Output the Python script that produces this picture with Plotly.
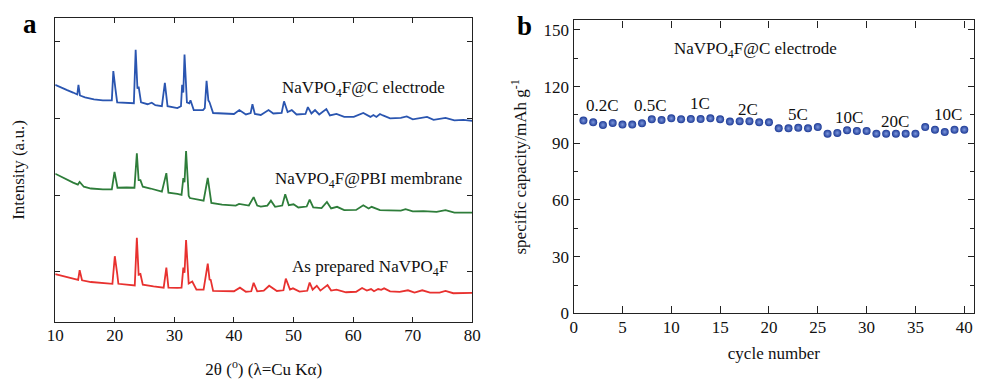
import plotly.graph_objects as go

# ---------------- Panel a: XRD patterns ----------------
blue_2theta = [10.0, 11.0, 12.0, 13.0, 13.7, 13.9, 14.15, 15.0, 16.5, 18.0, 19.5, 19.75, 19.95, 20.1, 20.4,
               22.0, 23.2, 23.5, 23.8, 24.0, 24.4, 25.5, 26.2, 26.8, 27.9, 28.4, 28.85, 30.5, 31.1, 31.3,
               31.5, 31.7, 32.1, 32.5, 32.7, 33.25, 34.8, 35.1, 35.4, 35.7, 35.9, 36.5, 40.0, 40.9, 42.0,
               42.8, 43.1, 43.5, 44.5, 45.8, 46.6, 48.0, 48.4, 49.0, 49.7, 50.5, 52.0, 52.4, 53.0, 53.6,
               54.3, 55.5, 56.1, 57.2, 58.5, 60.1, 61.7, 62.9, 63.4, 63.9, 64.5, 65.0, 66.2, 68.0, 69.0,
               70.0, 71.3, 72.4, 73.5, 75.5, 77.0, 78.5, 80.0]
blue_intensity = [244, 241, 238.5, 236, 234, 244, 233, 231, 229, 228, 228, 258, 242, 240, 226,
                  225.5, 225, 280, 240, 242, 226, 224, 225.5, 223, 222, 246, 222, 220, 222, 244,
                  236, 275, 226, 225, 228, 218, 218, 220, 248, 228, 226, 215, 214, 218, 213.5,
                  215, 224, 214, 213, 218, 214.5, 215, 227, 216, 218, 213.5, 214, 221, 214.5, 218,
                  213.5, 219, 212.5, 214, 211, 211, 215, 211, 213, 211, 214, 212.5, 209.5, 210, 211.5,
                  208.5, 210, 211, 208, 210, 207.5, 208, 207]

green_2theta = [10.0, 11.0, 12.0, 13.0, 13.8, 14.1, 14.8, 16.0, 18.0, 19.5, 19.95, 20.15, 20.45, 22.0, 23.3,
                23.7, 24.0, 24.3, 24.7, 26.0, 27.9, 28.65, 29.0, 30.5, 31.2, 31.5, 31.7, 31.96, 32.4, 32.6,
                34.9, 35.6, 36.2, 38.0, 40.3, 40.85, 42.5, 43.3, 43.9, 44.5, 45.6, 46.2, 46.9, 48.1, 48.6,
                49.2, 50.0, 50.8, 52.2, 52.7, 53.3, 54.7, 55.6, 56.3, 57.3, 58.5, 60.5, 61.7, 62.6, 63.1,
                63.6, 64.5, 66.0, 68.0, 68.8, 70.0, 71.8, 72.8, 74.0, 75.5, 77.0, 80.0]
green_intensity = [152.7, 149.5, 146.5, 143.5, 141.5, 144.3, 139.3, 137.5, 136.5, 136.5, 154.5, 147, 138.3, 138.5, 138.3,
                   173.7, 146, 146, 139.3, 137.5, 134.3, 153.3, 133.3, 132, 131, 148.3, 144, 176, 130, 127.7,
                   125, 148.3, 122.7, 121, 120, 121.7, 120, 128.7, 120, 119, 120, 125, 118.7, 120, 131.7,
                   120.3, 121.3, 118, 119, 126, 118, 117.3, 123.7, 117, 118.7, 115.3, 115.5, 120.3, 117, 118.7,
                   117.3, 115.3, 115, 114.7, 116.3, 114, 114.3, 113.7, 113.5, 115.3, 112.7, 112.7]

red_2theta = [10.0, 11.0, 12.0, 13.0, 13.85, 14.1, 14.5, 16.0, 18.0, 19.6, 20.0, 20.25, 20.4, 20.6, 22.0,
              23.35, 23.7, 24.0, 24.3, 24.7, 26.5, 28.2, 28.65, 29.0, 30.5, 31.2, 31.5, 31.7, 31.96, 32.4,
              33.0, 33.7, 34.9, 35.6, 35.9, 36.1, 36.5, 40.0, 41.0, 42.0, 42.9, 43.3, 43.9, 45.0, 45.9,
              46.3, 47.2, 48.3, 48.7, 49.4, 49.9, 51.0, 52.3, 52.7, 53.2, 53.9, 54.5, 55.7, 56.3, 57.2,
              58.8, 60.5, 61.5, 62.3, 63.0, 63.5, 64.2, 64.7, 65.2, 66.2, 67.8, 69.2, 70.3, 71.6, 72.9,
              74.5, 75.5, 76.8, 80.0]
red_intensity = [49.7, 48, 46.5, 45, 43.7, 53.7, 43.3, 41.5, 40.3, 39.7, 68, 52.3, 50, 39.7, 39,
                 38, 87, 49, 49.7, 38.7, 37, 35.7, 56.3, 35.7, 35.5, 35.7, 56.3, 51, 84.7, 40,
                 42, 33.7, 33.7, 60.3, 44, 43.7, 32.3, 32, 35.7, 31.5, 32, 40.7, 32, 32.7, 37.7,
                 36, 32.3, 33, 45, 33.7, 35, 31.7, 32.5, 41, 33.7, 37.7, 32.7, 38.3, 32.7, 33.7,
                 31, 31.5, 35.3, 32.7, 34.3, 32, 34.3, 33.5, 35, 32, 31.3, 33, 30.7, 33, 30.7,
                 30.7, 32.3, 30, 30.3]

xrd_labels = ["NaVPO<sub>4</sub>F@C electrode", "NaVPO<sub>4</sub>F@PBI membrane", "As prepared NaVPO<sub>4</sub>F"]
xrd_label_x = [61.8, 62.5, 62.8]
xrd_label_y = [239.3, 146, 56]

# ---------------- Panel b: rate capability ----------------
cycles = list(range(1, 41))
capacity = [102.0, 101.1, 99.7, 100.8, 99.9, 99.9, 100.6, 102.7, 102.3, 103.2,
            102.7, 102.8, 102.8, 103.2, 102.7, 101.5, 101.7, 101.7, 101.1, 101.1,
            97.9, 97.9, 98.2, 97.9, 98.6, 95.1, 95.5, 96.9, 96.5, 96.5,
            95.1, 95.1, 95.1, 95.1, 95.1, 98.6, 97.2, 96.0, 97.2, 97.2]
rate_labels = ["0.2C", "0.5C", "1C", "2C", "5C", "10C", "20C", "10C"]
rate_label_x = [3.0, 7.9, 12.9, 17.9, 23.0, 28.2, 32.9, 38.3]
rate_label_y = [110, 110, 111, 108, 105.4, 103.7, 101.6, 105]

FONT = "Liberation Serif"
AX = "#222222"

fig = go.Figure()
fig.add_trace(go.Scatter(x=blue_2theta, y=blue_intensity, mode="lines",
                         line=dict(color="#2a55b0", width=1.8), xaxis="x", yaxis="y", showlegend=False))
fig.add_trace(go.Scatter(x=green_2theta, y=green_intensity, mode="lines",
                         line=dict(color="#2e7d3a", width=1.8), xaxis="x", yaxis="y", showlegend=False))
fig.add_trace(go.Scatter(x=red_2theta, y=red_intensity, mode="lines",
                         line=dict(color="#e8312f", width=1.8), xaxis="x", yaxis="y", showlegend=False))

fig.add_trace(go.Scatter(x=cycles, y=capacity, mode="markers",
                         marker=dict(size=8, color="#1d3a95",
                                     gradient=dict(type="radial", color="#7d98de"),
                                     line=dict(width=0)),
                         xaxis="x2", yaxis="y2", showlegend=False))

annotations = []
for txt, xx, yy in zip(xrd_labels, xrd_label_x, xrd_label_y):
    annotations.append(dict(text=txt, x=xx, y=yy, xref="x", yref="y", showarrow=False,
                            xanchor="center", yanchor="middle",
                            font=dict(family=FONT, size=17, color="#111")))
for txt, xx, yy in zip(rate_labels, rate_label_x, rate_label_y):
    annotations.append(dict(text=txt, x=xx, y=yy, xref="x2", yref="y2", showarrow=False,
                            xanchor="center", yanchor="middle",
                            font=dict(family=FONT, size=17, color="#111")))
annotations.append(dict(text="NaVPO<sub>4</sub>F@C electrode", x=18.6, y=139.5, xref="x2", yref="y2",
                        showarrow=False, xanchor="center", yanchor="middle",
                        font=dict(family=FONT, size=17, color="#111")))
annotations.append(dict(text="<b>a</b>", x=22 / 984, y=1 - 25 / 387, xref="paper", yref="paper",
                        showarrow=False, xanchor="center", yanchor="middle",
                        font=dict(family=FONT, size=27, color="#000")))
annotations.append(dict(text="<b>b</b>", x=525 / 984, y=1 - 27 / 387, xref="paper", yref="paper",
                        showarrow=False, xanchor="center", yanchor="middle",
                        font=dict(family=FONT, size=27, color="#000")))

common = dict(showgrid=False, zeroline=False, showline=True, linecolor=AX, linewidth=1.4,
              mirror="ticks", ticks="inside", tickcolor=AX, tickwidth=1.2,
              tickfont=dict(family=FONT, size=17, color="#111"))

fig.update_layout(
    width=984, height=387,
    margin=dict(l=0, r=0, t=0, b=0),
    paper_bgcolor="white", plot_bgcolor="white",
    font=dict(family=FONT),
    annotations=annotations,
    xaxis=dict(domain=[48 / 984, 472 / 984], range=[10, 80], tick0=10, dtick=10, ticklen=5,
               ticklabelstandoff=-3,
               title=dict(text="2θ (<sup>o</sup>) (λ=Cu Kα)", font=dict(family=FONT, size=17, color="#111"), standoff=19),
               anchor="y", **common),
    yaxis=dict(domain=[1 - 331 / 387, 1 - 18 / 387], range=[0, 313], tick0=52, dtick=78.7, ticklen=5,
               showticklabels=False,
               title=dict(text="Intensity (a.u.)", font=dict(family=FONT, size=17, color="#111"), standoff=25),
               anchor="x", **common),
    xaxis2=dict(domain=[575 / 984, 982 / 984], range=[0, 41], tick0=0, dtick=5, ticklen=7,
                ticklabelstandoff=-2,
                title=dict(text="cycle number", font=dict(family=FONT, size=17, color="#111"), standoff=11),
                anchor="y2", **common),
    yaxis2=dict(domain=[1 - 321.7 / 387, 1 - 21 / 387], range=[0, 155], tick0=0, dtick=30, ticklen=6,
                minor=dict(dtick=15, ticks="inside", ticklen=4, tickcolor=AX, tickwidth=1.1),
                title=dict(text="specific capacity/mAh g<sup>-1</sup>", font=dict(family=FONT, size=17, color="#111"), standoff=12),
                anchor="x2", **common),
)

fig.write_html("out.html", config={"displayModeBar": False},
               post_script="document.body.style.margin='0';document.body.style.padding='0';")
